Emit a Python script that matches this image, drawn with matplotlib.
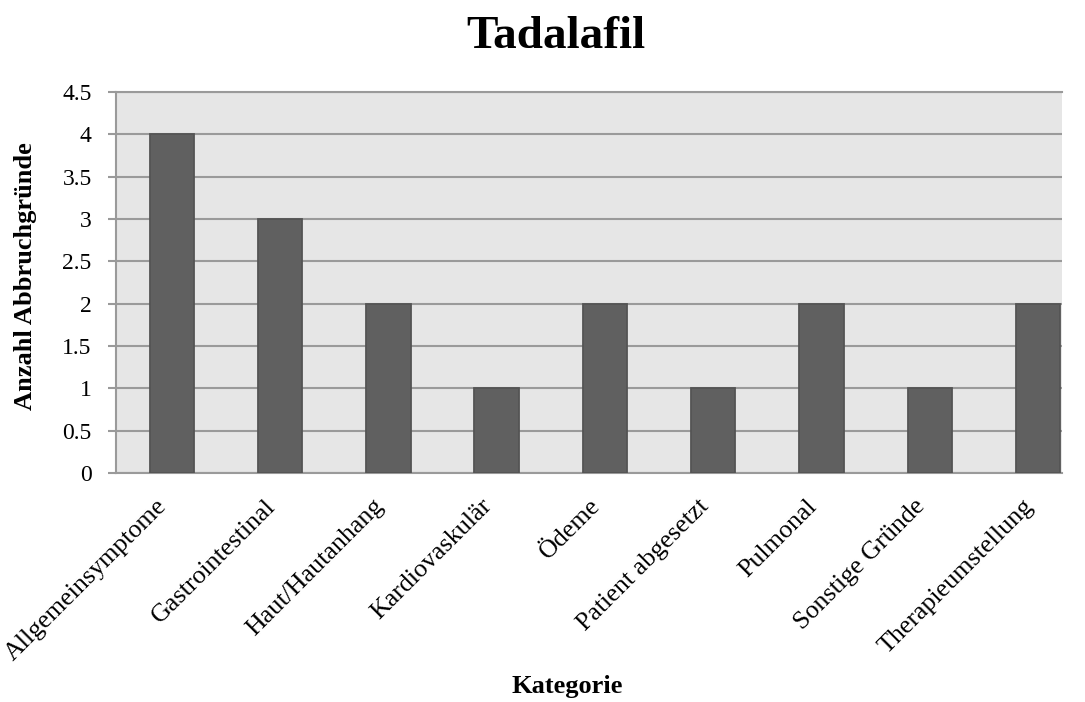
import numpy as np
import matplotlib.pyplot as plt
import matplotlib.transforms as mtransforms

plt.rcParams['font.family'] = ['Liberation Serif', 'DejaVu Serif']

categories = ['Allgemeinsymptome', 'Gastrointestinal', 'Haut/Hautanhang',
              'Kardiovaskulär', 'Ödeme', 'Patient abgesetzt', 'Pulmonal',
              'Sonstige Gründe', 'Therapieumstellung']
counts = [4, 3, 2, 1, 2, 1, 2, 1, 2]
yticks = [0, 0.5, 1, 1.5, 2, 2.5, 3, 3.5, 4, 4.5]
ytick_labels = ['0', '0.5', '1', '1.5', '2', '2.5', '3', '3.5', '4', '4.5']

fig = plt.figure(figsize=(10.85, 7.02), dpi=100)
# plot area in pixels: x 116..1062, y 92..473
ax = fig.add_axes([116 / 1085, 1 - 473 / 702, 946 / 1085, 381 / 702])
ax.set_facecolor('#e6e6e6')

x = np.arange(len(categories))
ax.bar(x, counts, width=0.41, color='#606060', edgecolor='#545454',
       linewidth=1.3, zorder=3)

# the right side of the plot area is cut short in the original
ax.set_xlim(-0.515, 8.22)
ax.set_ylim(0, 4.5)
ax.set_yticks(yticks)
ax.set_yticklabels(ytick_labels, fontsize=17)
ax.yaxis.grid(True, color='#9a9a9a', linewidth=1.5, zorder=1)
ax.tick_params(axis='y', direction='out', length=6, color='#9a9a9a',
               width=1.5, pad=11.5)

ax.set_xticks(x)
ax.set_xticklabels(categories, rotation=45, ha='right', va='baseline',
                   rotation_mode='anchor', fontsize=18.7)
ax.tick_params(axis='x', length=0, pad=24.5)
shift = mtransforms.ScaledTranslation(-4 / 100, 0, fig.dpi_scale_trans)
for lab in ax.get_xticklabels():
    lab.set_transform(lab.get_transform() + shift)

ax.spines['right'].set_visible(False)
for side in ['left', 'bottom', 'top']:
    ax.spines[side].set_color('#9a9a9a')
    ax.spines[side].set_linewidth(1.5)

ax.set_ylabel('Anzahl Abbruchgründe', fontsize=19, fontweight='bold')
ax.yaxis.set_label_coords(-0.084, 0.516)
ax.set_xlabel('Kategorie', fontsize=19, fontweight='bold', va='baseline')
ax.xaxis.set_label_coords(0.4767, -0.5774)

fig.suptitle('Tadalafil', fontsize=34, fontweight='bold',
             x=556 / 1085, y=1 - 48 / 702, va='baseline')

fig.savefig('out.png', dpi=100)
